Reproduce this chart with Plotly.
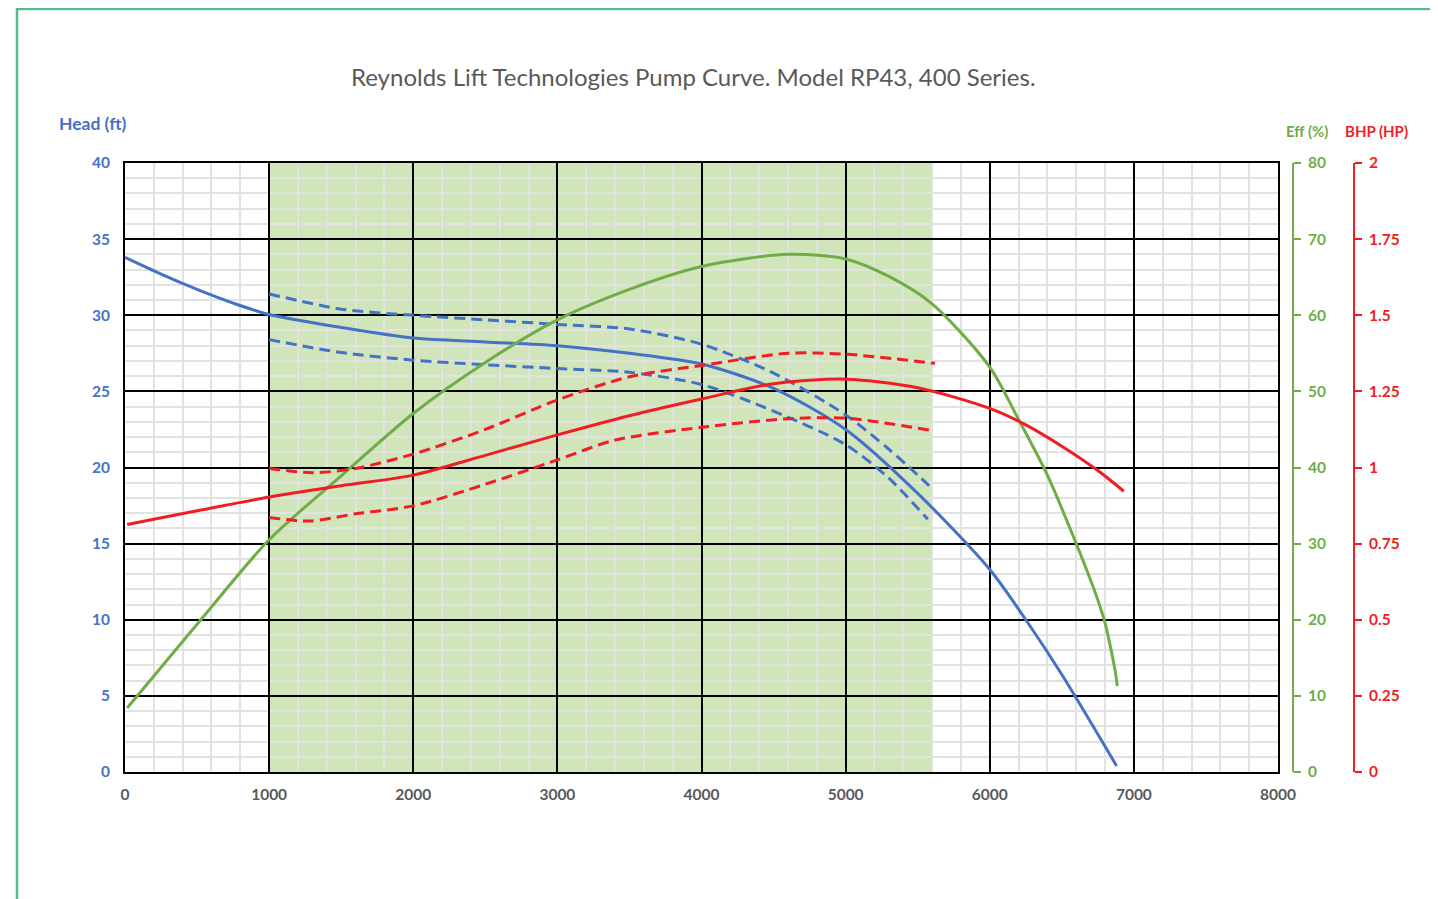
import plotly.graph_objects as go

# ---- data ----
flow_head = [0, 250, 500, 750, 1000, 1500, 2000, 2500, 3000, 3500, 4000, 4500, 5000, 5500, 6000, 6250, 6500, 6880]
head = [33.8, 32.7, 31.7, 30.8, 30.05, 29.2, 28.5, 28.25, 28.0, 27.5, 26.8, 25.2, 22.5, 18.3, 13.3, 10.0, 6.4, 0.4]

flow_head_hi = [1000, 1500, 2000, 2500, 3000, 3500, 4000, 4500, 5000, 5300, 5580]
head_hi = [31.4, 30.4, 30.0, 29.7, 29.4, 29.1, 28.1, 26.2, 23.45, 21.2, 18.8]

flow_head_lo = [1000, 1500, 2000, 2500, 3000, 3500, 4000, 4500, 5000, 5300, 5570]
head_lo = [28.4, 27.55, 27.05, 26.75, 26.5, 26.25, 25.45, 23.7, 21.5, 19.3, 16.6]

flow_eff = [15, 500, 1000, 1500, 2000, 2500, 3000, 3500, 4000, 4600, 5000, 5300, 5600, 6000, 6200, 6400, 6600, 6700, 6750, 6800, 6840, 6870, 6885]
eff = [8.4, 19.4, 30.5, 38.9, 47.1, 53.8, 59.4, 63.4, 66.4, 68.0, 67.4, 65.1, 61.5, 53.2, 46.3, 39.0, 30.0, 25.2, 22.6, 19.6, 16.2, 13.3, 11.3]

flow_bhp = [15, 500, 1000, 1500, 2000, 2500, 3000, 3500, 4000, 4500, 5000, 5500, 6000, 6250, 6500, 6750, 6930]
bhp = [0.813, 0.858, 0.903, 0.94, 0.975, 1.04, 1.107, 1.17, 1.225, 1.275, 1.29, 1.262, 1.194, 1.14, 1.07, 0.99, 0.922]

flow_bhp_hi = [1000, 1300, 1600, 2000, 2500, 3000, 3500, 4000, 4600, 5000, 5620]
bhp_hi = [0.997, 0.983, 0.997, 1.044, 1.125, 1.222, 1.298, 1.335, 1.375, 1.372, 1.342]

flow_bhp_lo = [1000, 1280, 1600, 2000, 2500, 3000, 3400, 4000, 4600, 5000, 5590]
bhp_lo = [0.836, 0.824, 0.848, 0.874, 0.945, 1.025, 1.09, 1.132, 1.16, 1.162, 1.122]

op_range = [1000, 5600]  # recommended operating range (shaded)

title_text = "Reynolds Lift Technologies Pump Curve. Model RP43, 400 Series."

BLUE = "#4472C4"
GREEN = "#70AD47"
RED = "#F01E23"
GRAY = "#595959"
FONT = "Lato"
DASH = "11px,6px"

fig = go.Figure()

def line(x, y, color, axis, dash=None):
    fig.add_trace(go.Scatter(
        x=x, y=y, mode="lines", yaxis=axis,
        line=dict(color=color, width=3, shape="spline", smoothing=0.8, dash=dash),
        showlegend=False, hoverinfo="skip"))

line(flow_head_hi, head_hi, BLUE, "y", DASH)
line(flow_head_lo, head_lo, BLUE, "y", DASH)
line(flow_head, head, BLUE, "y")
line(flow_bhp_hi, bhp_hi, RED, "y3", DASH)
line(flow_bhp_lo, bhp_lo, RED, "y3", DASH)
line(flow_bhp, bhp, RED, "y3")
line(flow_eff, eff, GREEN, "y2")

OFF = 8  # page body margin
W, H = 1438 - OFF, 899 - OFF
ml = 125 - OFF
mt = 163 - OFF
mb = H - (772 - OFF)
mr = 40
pw = W - ml - mr
ph = H - mt - mb
x_end = (1278 - 125) / pw

def px(xs):  # screen x -> paper
    return (xs - 125) / pw

def py(ys):  # screen y -> paper
    return (772 - ys) / ph

fig.add_shape(type="rect", xref="x", yref="y", x0=op_range[0], x1=op_range[1], y0=0, y1=40,
              fillcolor="#D0E6BA", line=dict(width=0), layer="below")

# outer chart border
fig.add_shape(type="rect", xref="paper", yref="paper",
              x0=px(17), x1=px(1460), y0=py(930), y1=py(9),
              line=dict(color="#52BE8C", width=2.5), fillcolor="rgba(0,0,0,0)", layer="above")

TS = 15.5
tickfont_bold = dict(family=FONT, size=TS, weight="bold")

fig.update_layout(
    width=W, height=H,
    margin=dict(l=ml, r=mr, t=mt, b=mb),
    paper_bgcolor="white", plot_bgcolor="white",
    showlegend=False,
    xaxis=dict(
        domain=[0, x_end], range=[0, 8000], dtick=1000, tick0=0,
        showgrid=True, gridcolor="black", gridwidth=1.6,
        minor=dict(dtick=200, showgrid=True, gridcolor="#E2E2E2", gridwidth=2),
        showline=True, linecolor="black", linewidth=1.6, mirror=True,
        ticks="", zeroline=False,
        tickfont=dict(tickfont_bold, color=GRAY), ticklabelstandoff=8,
    ),
    yaxis=dict(
        range=[0, 40], dtick=5, tick0=0,
        showgrid=True, gridcolor="black", gridwidth=1.6,
        minor=dict(dtick=1, showgrid=True, gridcolor="#E2E2E2", gridwidth=2),
        showline=True, linecolor="black", linewidth=1.6, mirror=True,
        ticks="", zeroline=False,
        tickfont=dict(tickfont_bold, color=BLUE), ticklabelstandoff=10,
    ),
    yaxis2=dict(
        overlaying="y", side="right", anchor="free", position=px(1293),
        range=[0, 80], dtick=10, tick0=0, showgrid=False, zeroline=False,
        showline=True, linecolor=GREEN, linewidth=2,
        ticks="outside", ticklen=7, tickwidth=2, tickcolor=GREEN,
        tickfont=dict(tickfont_bold, color=GREEN), ticklabelstandoff=4,
    ),
    yaxis3=dict(
        overlaying="y", side="right", anchor="free", position=px(1354),
        range=[0, 2], dtick=0.25, tick0=0, showgrid=False, zeroline=False,
        showline=True, linecolor=RED, linewidth=2,
        ticks="outside", ticklen=7, tickwidth=2, tickcolor=RED,
        tickfont=dict(tickfont_bold, color=RED), ticklabelstandoff=4,
    ),
    annotations=[
        dict(text=title_text, xref="paper", yref="paper", x=px(693), y=py(77),
             showarrow=False, font=dict(family=FONT, size=24, color=GRAY),
             xanchor="center", yanchor="middle"),
        dict(text="Head (ft)", xref="paper", yref="paper", x=px(93), y=py(123),
             showarrow=False, font=dict(family=FONT, size=17.5, color=BLUE, weight="bold"),
             xanchor="center", yanchor="middle"),
        dict(text="Eff (%)", xref="paper", yref="paper", x=px(1307), y=py(131),
             showarrow=False, font=dict(family=FONT, size=15, color=GREEN, weight="bold"),
             xanchor="center", yanchor="middle"),
        dict(text="BHP (HP)", xref="paper", yref="paper", x=px(1376), y=py(131),
             showarrow=False, font=dict(family=FONT, size=15, color=RED, weight="bold"),
             xanchor="center", yanchor="middle"),
    ],
)

fig.write_html("out.html")
